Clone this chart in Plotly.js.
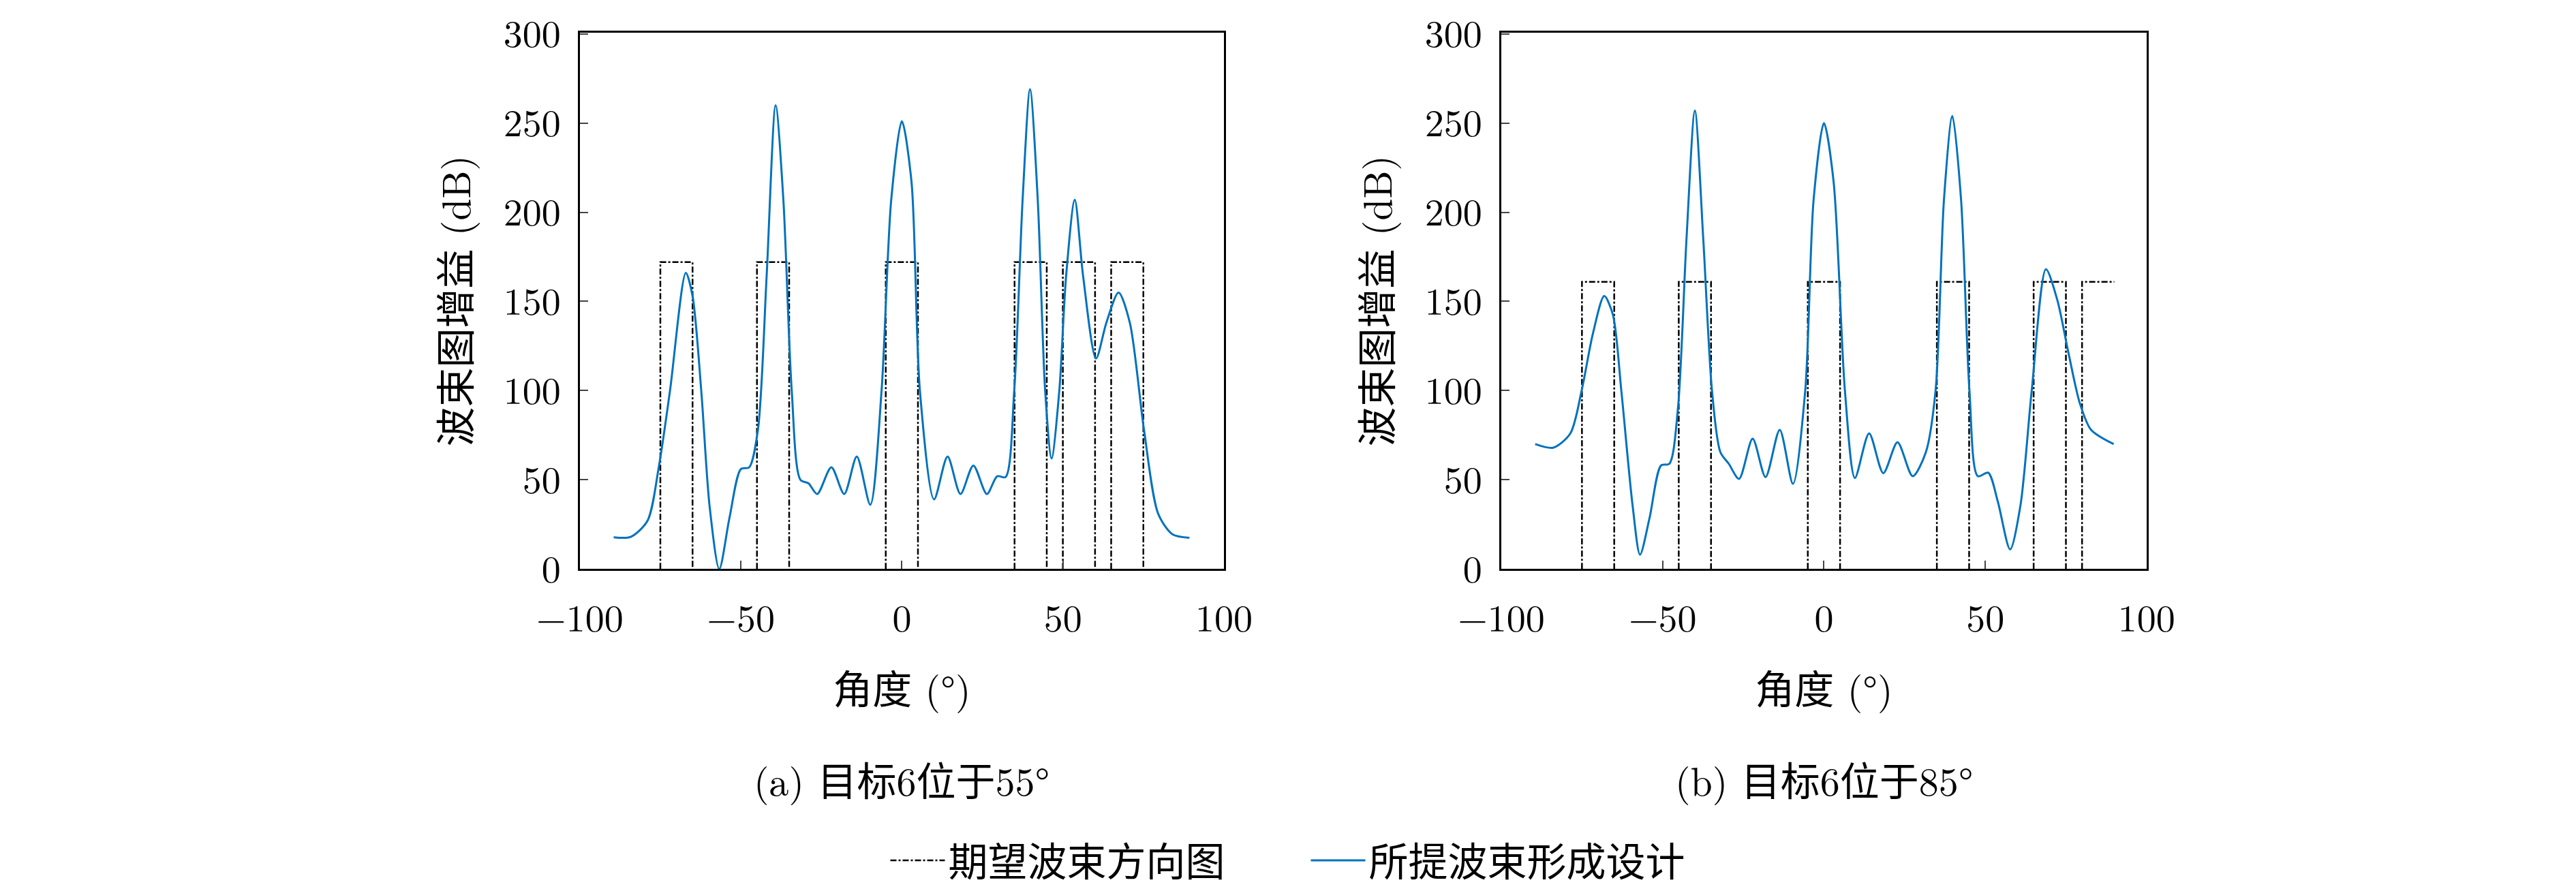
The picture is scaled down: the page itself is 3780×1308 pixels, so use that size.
<!DOCTYPE html>
<html>
<head>
<meta charset="utf-8">
<script src="https://cdn.plot.ly/plotly-3.0.1.min.js"></script>
<style>html,body{margin:0;padding:0;background:#fff}#chart{width:3780px;height:1308px}</style>
</head>
<body>
<div id="chart"></div>
<script>
// (a) target 6 at 55 deg
const angleA = [-89.5, -84.2, -79, -75.5, -72, -67.1, -65, -62.3, -59.7, -56.7, -53.5, -50, -47.4, -44.7, -42, -39.2, -36.8, -34.2, -31.5, -29, -26.3, -21.9, -17.9, -14, -9.8, -6.3, -3.3, 0, 3, 5.6, 10, 14.2, 18.2, 22.2, 26.4, 29.6, 32.2, 34.9, 37.5, 39.8, 42.2, 44.5, 46.5, 48.9, 51, 53.7, 56.3, 60.3, 63.5, 67.3, 70.8, 75.2, 79.6, 84, 89.3]
const gainA = [17.8, 18, 27, 57, 100, 166, 153, 100, 35, 0, 29, 56, 57, 78, 164, 260, 207, 100, 50, 48, 42, 57, 42, 63, 36, 100, 207, 251, 217, 100, 39, 63, 42, 58, 42, 52, 51.5, 100, 207, 269, 207, 100, 62, 100, 164, 207, 164, 118, 138, 155, 138, 78, 31, 19.5, 17.5]
const maskAngleA = [-75, -75, -65, -65, null, -45, -45, -35, -35, null, -5, -5, 5, 5, null, 35, 35, 45, 45, null, 50, 50, 60, 60, null, 65, 65, 75, 75]
const maskGainA = [0, 172, 172, 0, null, 0, 172, 172, 0, null, 0, 172, 172, 0, null, 0, 172, 172, 0, null, 0, 172, 172, 0, null, 0, 172, 172, 0]

// (b) target 6 at 85 deg
const angleB = [-89.5, -83.9, -78.6, -75.1, -71.6, -68.1, -65.4, -62.8, -59.3, -57, -54, -50.5, -47.9, -45.3, -42.6, -40, -37.4, -34.7, -32.1, -29.5, -26.3, -22.1, -18.1, -13.7, -9.6, -5.8, -3.2, 0, 3, 6.5, 9.6, 14, 18.4, 22.8, 27.5, 31.6, 34.6, 37.2, 39.8, 42.5, 45.1, 47.7, 50.9, 53.9, 57.7, 60.9, 64.4, 68.8, 72.3, 75.8, 79.3, 82.8, 89.8]
const gainB = [70, 68, 76, 100, 132, 153, 142.5, 100, 35.5, 8, 29, 58, 59, 89, 185, 257, 185, 100, 65.5, 59, 50.5, 73, 51.5, 78, 47.7, 100, 207, 250, 217, 100, 51, 76, 53.7, 71, 52, 65.5, 100, 207, 254, 207, 100, 52, 54, 37.7, 11, 35.5, 100, 168, 151, 121, 93, 78, 70]
const maskAngleB = [-75, -75, -65, -65, null, -45, -45, -35, -35, null, -5, -5, 5, 5, null, 35, 35, 45, 45, null, 65, 65, 75, 75, null, 80, 80, 90]
const maskGainB = [0, 161, 161, 0, null, 0, 161, 161, 0, null, 0, 161, 161, 0, null, 0, 161, 161, 0, null, 0, 161, 161, 0, null, 0, 161, 161]

const xTicks = [-100, -50, 0, 50, 100]
const xTickText = ['\u2212100', '\u221250', '0', '50', '100']
const yTicks = [0, 50, 100, 150, 200, 250, 300]

const legendNames = ['期望波束方向图\u2003\u2003', '所提波束形成设计']
const subTitles = ['(a) 目标6位于55°', '(b) 目标6位于85°']

const font = 'Latin Modern Roman, Liberation Serif, Noto Sans CJK SC, serif'
const blue = 'rgb(0, 114, 189)'

const traces = [
  { x: maskAngleA, y: maskGainA, xaxis: 'x', yaxis: 'y', mode: 'lines', name: legendNames[0], connectgaps: false,
    line: { color: 'black', width: 2.5, dash: 'dashdot' } },
  { x: angleA, y: gainA, xaxis: 'x', yaxis: 'y', mode: 'lines', name: legendNames[1],
    line: { color: blue, width: 3, shape: 'spline', smoothing: 0.8 } },
  { x: maskAngleB, y: maskGainB, xaxis: 'x2', yaxis: 'y2', mode: 'lines', showlegend: false, connectgaps: false,
    line: { color: 'black', width: 2.5, dash: 'dashdot' } },
  { x: angleB, y: gainB, xaxis: 'x2', yaxis: 'y2', mode: 'lines', showlegend: false,
    line: { color: blue, width: 3, shape: 'spline', smoothing: 0.8 } }
]

function xAxis (domain, anchor) {
  return {
    domain, anchor, range: [-100, 100], tickvals: xTicks, ticktext: xTickText,
    ticks: 'inside', ticklen: 12, tickwidth: 2, showgrid: false, zeroline: false,
    showline: true, mirror: true, linecolor: 'black', linewidth: 3,
    ticklabelstandoff: 22,
    tickfont: { size: 56, family: font, color: 'black' },
    title: { text: '角度 (°)', font: { size: 58, family: font, color: 'black' }, standoff: 50 }
  }
}
function yAxis (anchor) {
  return {
    domain: [0.358, 0.963], anchor, range: [0, 300.6], tickvals: yTicks,
    ticks: 'inside', ticklen: 12, tickwidth: 2, showgrid: false, zeroline: false,
    showline: true, mirror: true, linecolor: 'black', linewidth: 3,
    ticklabelstandoff: 14, ticklabeloverflow: 'allow',
    tickfont: { size: 56, family: font, color: 'black' },
    title: { text: '波束图增益 (dB)', font: { size: 58, family: font, color: 'black' }, standoff: 30 }
  }
}

Plotly.newPlot('chart', traces, {
  width: 3780,
  height: 1308,
  margin: { l: 0, r: 0, t: 0, b: 0 },
  paper_bgcolor: 'white',
  plot_bgcolor: 'white',
  font: { family: font, color: 'black' },
  xaxis: xAxis([0.2251, 0.4751], 'y'),
  yaxis: yAxis('x'),
  xaxis2: xAxis([0.5828, 0.8333], 'y2'),
  yaxis2: yAxis('x2'),
  showlegend: true,
  legend: {
    orientation: 'h', x: 0.5, xanchor: 'center', y: 0.029, yanchor: 'middle',
    font: { size: 58, family: font, color: 'black' }, itemwidth: 80,
    tracegroupgap: 0
  },
  annotations: [
    { text: subTitles[0], xref: 'paper', yref: 'paper', x: 0.3501, y: 1 - 1150 / 1308, showarrow: false,
      xanchor: 'center', yanchor: 'middle', font: { size: 58, family: font, color: 'black' } },
    { text: subTitles[1], xref: 'paper', yref: 'paper', x: 0.708, y: 1 - 1150 / 1308, showarrow: false,
      xanchor: 'center', yanchor: 'middle', font: { size: 58, family: font, color: 'black' } }
  ]
}, { displayModeBar: false })
</script>
</body>
</html>
